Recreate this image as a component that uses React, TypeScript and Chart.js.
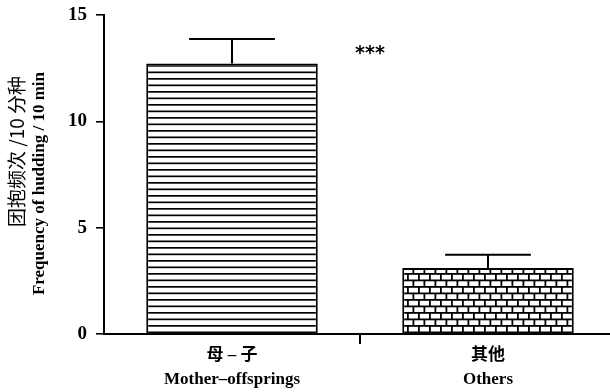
import { useEffect, useRef } from 'react';
import { Chart, registerables } from 'chart.js';

Chart.register(...registerables);

const categoriesZh = ['母 – 子', '其他'];
const categoriesEn = ['Mother–offsprings', 'Others'];
const means = [12.72, 3.1];
const errors = [1.15, 0.63];
const yTicks = [0, 5, 10, 15];
const yTitleZh = '团抱频次 /10 分种';
const yTitleEn = 'Frequency of hudding / 10 min';
const significance = '***';

function stripePattern(): CanvasPattern | string {
  const c = document.createElement('canvas');
  c.width = 8;
  c.height = 13;
  const g = c.getContext('2d');
  if (!g) return '#fff';
  g.fillStyle = '#fff';
  g.fillRect(0, 0, 8, 13);
  g.fillStyle = '#000';
  g.fillRect(0, 0, 8, 1.7);
  g.fillRect(0, 6.5, 8, 1.7);
  return g.createPattern(c, 'repeat') || '#fff';
}

function brickPattern(): CanvasPattern | string {
  const c = document.createElement('canvas');
  c.width = 22;
  c.height = 13;
  const g = c.getContext('2d');
  if (!g) return '#fff';
  g.fillStyle = '#000';
  g.fillRect(0, 0, 22, 13);
  g.fillStyle = '#fff';
  g.fillRect(1.8, 1.8, 9.2, 4.7);
  g.fillRect(12.8, 1.8, 9.2, 4.7);
  g.fillRect(-3.7, 8.3, 9.2, 4.7);
  g.fillRect(7.3, 8.3, 9.2, 4.7);
  g.fillRect(18.3, 8.3, 9.2, 4.7);
  return g.createPattern(c, 'repeat') || '#fff';
}

const errorBarPlugin = {
  id: 'errorBars',
  afterDatasetsDraw(chart: any) {
    const { ctx, scales } = chart;
    const y = scales.y;
    const meta = chart.getDatasetMeta(0);
    ctx.save();
    ctx.strokeStyle = '#000';
    ctx.lineWidth = 2;
    meta.data.forEach((bar: any, i: number) => {
      const top = y.getPixelForValue(means[i] + errors[i]);
      const base = y.getPixelForValue(means[i]);
      const half = bar.width / 4;
      ctx.beginPath();
      ctx.moveTo(bar.x, base);
      ctx.lineTo(bar.x, top);
      ctx.moveTo(bar.x - half, top);
      ctx.lineTo(bar.x + half, top);
      ctx.stroke();
    });
    const x = scales.x;
    const midX = (x.getPixelForValue(0) + x.getPixelForValue(1)) / 2;
    ctx.fillStyle = '#000';
    ctx.font = 'bold 19px "DejaVu Sans"';
    ctx.textAlign = 'center';
    ctx.textBaseline = 'middle';
    ctx.fillText(significance, midX + 10, y.getPixelForValue(13.15));
    ctx.restore();
  },
};

const yTitlePlugin = {
  id: 'yTitle',
  afterDraw(chart: any) {
    const { ctx, chartArea } = chart;
    ctx.save();
    ctx.fillStyle = '#000';
    ctx.textAlign = 'right';
    ctx.textBaseline = 'middle';
    ctx.translate(chartArea.left - 87, chartArea.top + 61);
    ctx.rotate(-Math.PI / 2);
    ctx.font = '19px "Noto Sans CJK SC"';
    ctx.fillText(yTitleZh, 0, 0);
    ctx.restore();
    ctx.save();
    ctx.fillStyle = '#000';
    ctx.textAlign = 'right';
    ctx.textBaseline = 'middle';
    ctx.translate(chartArea.left - 64, chartArea.top + 57);
    ctx.rotate(-Math.PI / 2);
    ctx.font = 'bold 17px "Liberation Serif"';
    ctx.fillText(yTitleEn, 0, 0);
    ctx.restore();
  },
};

export default function App() {
  const ref = useRef<HTMLCanvasElement | null>(null);

  useEffect(() => {
    if (!ref.current) return;
    const chart = new Chart(ref.current, {
      type: 'bar',
      data: {
        labels: categoriesEn,
        datasets: [
          {
            data: means,
            backgroundColor: [stripePattern(), brickPattern()],
            borderColor: '#000',
            borderWidth: 2,
            barPercentage: 0.67,
            categoryPercentage: 1,
          },
        ],
      },
      options: {
        responsive: false,
        animation: false,
        events: [],
        layout: { padding: { top: 15, left: 0, right: 0, bottom: 0 } },
        plugins: {
          legend: { display: false },
          tooltip: { enabled: false },
          title: { display: false },
        },
        scales: {
          x: {
            type: 'category',
            offset: true,
            border: { display: true, color: '#000', width: 2 },
            grid: {
              display: true,
              offset: true,
              drawOnChartArea: false,
              drawTicks: true,
              tickLength: 10,
              lineWidth: 2,
              color: (c: any) => (c.index === 1 ? '#000' : 'rgba(0,0,0,0)'),
            },
            ticks: {
              color: '#000',
              padding: 0,
              maxRotation: 0,
              autoSkip: false,
              font: { family: '"Liberation Serif", "Noto Sans CJK SC"', size: 17, weight: 'bold', lineHeight: 1.41 },
              callback: (_v: any, i: number) => [categoriesZh[i], categoriesEn[i]],
            },
            afterFit: (s: any) => {
              s.height = 58;
              s.paddingLeft = 0;
              s.paddingRight = 0;
              s.paddingTop = 0;
              s.paddingBottom = 0;
            },
          },
          y: {
            min: 0,
            max: 15,
            border: { display: true, color: '#000', width: 2 },
            grid: {
              display: true,
              drawOnChartArea: false,
              drawTicks: true,
              tickLength: 8,
              lineWidth: 1.6,
              color: '#000',
            },
            afterBuildTicks: (s: any) => {
              s.ticks = yTicks.map((v) => ({ value: v }));
            },
            ticks: {
              color: '#000',
              padding: 9,
              font: { family: '"Liberation Serif"', size: 19, weight: 'bold' },
            },
            afterFit: (s: any) => {
              s.width = 104;
              s.paddingTop = 0;
              s.paddingBottom = 0;
              s.paddingLeft = 0;
              s.paddingRight = 0;
            },
          },
        },
      },
      plugins: [errorBarPlugin, yTitlePlugin],
    } as any);
    return () => chart.destroy();
  }, []);

  return (
    <div style={{ position: 'fixed', left: 0, top: 0, width: 616, height: 392, background: '#fff' }}>
      <canvas ref={ref} width={616} height={392} style={{ display: 'block' }} />
    </div>
  );
}
